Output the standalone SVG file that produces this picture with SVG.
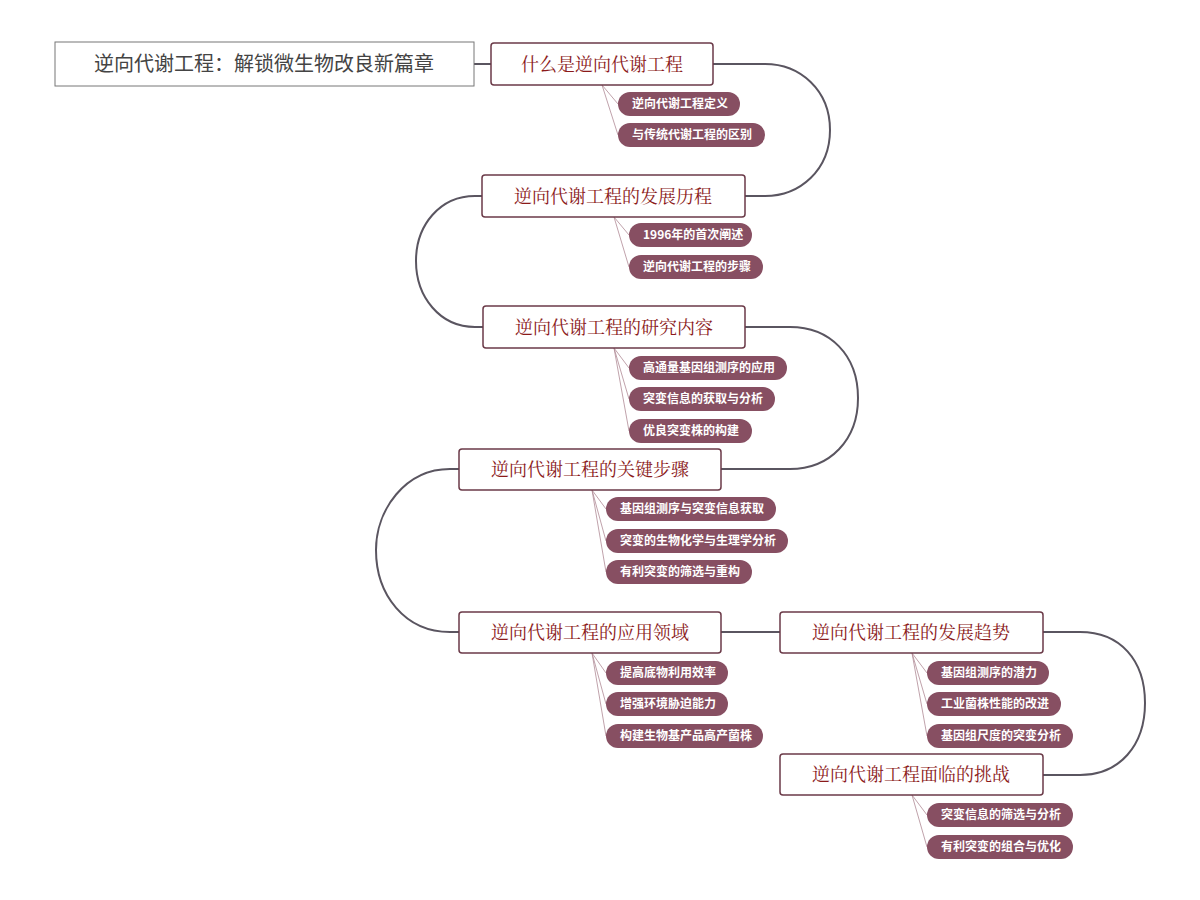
<svg xmlns="http://www.w3.org/2000/svg" width="1200" height="900" viewBox="0 0 1200 900">
<style>
.bg{fill:#fff}
.title rect{fill:#fff;stroke:#777;stroke-width:1}
.title text{font-family:"Noto Sans CJK SC","Liberation Sans",sans-serif;font-size:20px;fill:#444;text-anchor:middle}
.main rect{fill:#fff;stroke:#6b3a48;stroke-width:1.5}
.main text{font-family:"Noto Serif CJK SC","Noto Sans CJK SC",serif;font-size:18px;fill:#8b1a1a;text-anchor:middle}
.sub rect{fill:#874f62}
.sub text{font-family:"Noto Sans CJK SC","Liberation Sans",sans-serif;font-size:12px;font-weight:bold;fill:#fff}
.trunk{fill:none;stroke:#5a5560;stroke-width:2}
.twig{fill:none;stroke:#b08a95;stroke-width:0.8}
</style>
<rect class="bg" width="1200" height="900"/>
<g id="connectors">
<path class="trunk" d="M474,64 L491,64"/>
<path class="trunk" d="M713,64 L765,64 C800,64 830,90 830,130 C830,170 800,196 765,196 L745,196"/>
<path class="trunk" d="M482,196 L475,196 C440,196 416,225 416,261 C416,297 440,327 475,327 L483,327"/>
<path class="trunk" d="M745,327 L790,327 C830,327 858,355 858,398 C858,440 830,469 790,469 L721,469"/>
<path class="trunk" d="M459,469 L450,469 C405,469 376,510 376,550 C376,595 405,632 450,632 L459,632"/>
<path class="trunk" d="M721,632 L780,632"/>
<path class="trunk" d="M1043,632 L1080,632 C1120,632 1145,660 1145,703 C1145,745 1120,775 1080,775 L1043,775"/>
<path class="twig" d="M602,85 L618,104 M602,85 L618,135"/>
<path class="twig" d="M614,217 L629,235 M614,217 L629,267"/>
<path class="twig" d="M614,348 L629,368 M614,348 L629,399 M614,348 L629,431"/>
<path class="twig" d="M592,490 L606,509 M592,490 L606,541 M592,490 L606,572"/>
<path class="twig" d="M592,653 L606,673 M592,653 L606,704 M592,653 L606,736"/>
<path class="twig" d="M912,653 L927,673 M912,653 L927,704 M912,653 L927,736"/>
<path class="twig" d="M912,795 L927,815 M912,795 L927,847"/>
</g>
<g id="title" class="title"><rect x="55" y="42" width="419" height="44"/><text x="264" y="71">逆向代谢工程：解锁微生物改良新篇章</text></g>
<g id="n1" class="main"><rect x="491" y="43" width="222" height="42" rx="3"/><text x="602" y="71">什么是逆向代谢工程</text></g>
<g id="n2" class="main"><rect x="482" y="175" width="263" height="42" rx="3"/><text x="613" y="203">逆向代谢工程的发展历程</text></g>
<g id="n3" class="main"><rect x="483" y="306" width="262" height="42" rx="3"/><text x="614" y="334">逆向代谢工程的研究内容</text></g>
<g id="n4" class="main"><rect x="459" y="449" width="262" height="41" rx="3"/><text x="590" y="476">逆向代谢工程的关键步骤</text></g>
<g id="n5" class="main"><rect x="459" y="612" width="262" height="41" rx="3"/><text x="590" y="639">逆向代谢工程的应用领域</text></g>
<g id="n6" class="main"><rect x="780" y="612" width="263" height="41" rx="3"/><text x="911" y="639">逆向代谢工程的发展趋势</text></g>
<g id="n7" class="main"><rect x="780" y="754" width="263" height="41" rx="3"/><text x="911" y="781">逆向代谢工程面临的挑战</text></g>
<g id="s1a" class="sub"><rect x="618" y="92" width="122" height="24" rx="12"/><text x="632" y="108">逆向代谢工程定义</text></g>
<g id="s1b" class="sub"><rect x="618" y="123" width="147" height="24" rx="12"/><text x="632" y="139">与传统代谢工程的区别</text></g>
<g id="s2a" class="sub"><rect x="629" y="223" width="123" height="24" rx="12"/><text x="643" y="239">1996年的首次阐述</text></g>
<g id="s2b" class="sub"><rect x="629" y="255" width="134" height="24" rx="12"/><text x="643" y="271">逆向代谢工程的步骤</text></g>
<g id="s3a" class="sub"><rect x="629" y="356" width="158" height="24" rx="12"/><text x="643" y="372">高通量基因组测序的应用</text></g>
<g id="s3b" class="sub"><rect x="629" y="387" width="146" height="24" rx="12"/><text x="643" y="403">突变信息的获取与分析</text></g>
<g id="s3c" class="sub"><rect x="629" y="419" width="123" height="24" rx="12"/><text x="643" y="435">优良突变株的构建</text></g>
<g id="s4a" class="sub"><rect x="606" y="497" width="170" height="24" rx="12"/><text x="620" y="513">基因组测序与突变信息获取</text></g>
<g id="s4b" class="sub"><rect x="606" y="529" width="182" height="24" rx="12"/><text x="620" y="545">突变的生物化学与生理学分析</text></g>
<g id="s4c" class="sub"><rect x="606" y="560" width="146" height="24" rx="12"/><text x="620" y="576">有利突变的筛选与重构</text></g>
<g id="s5a" class="sub"><rect x="606" y="661" width="122" height="24" rx="12"/><text x="620" y="677">提高底物利用效率</text></g>
<g id="s5b" class="sub"><rect x="606" y="692" width="122" height="24" rx="12"/><text x="620" y="708">增强环境胁迫能力</text></g>
<g id="s5c" class="sub"><rect x="606" y="724" width="157" height="24" rx="12"/><text x="620" y="740">构建生物基产品高产菌株</text></g>
<g id="s6a" class="sub"><rect x="927" y="661" width="122" height="24" rx="12"/><text x="941" y="677">基因组测序的潜力</text></g>
<g id="s6b" class="sub"><rect x="927" y="692" width="134" height="24" rx="12"/><text x="941" y="708">工业菌株性能的改进</text></g>
<g id="s6c" class="sub"><rect x="927" y="724" width="146" height="24" rx="12"/><text x="941" y="740">基因组尺度的突变分析</text></g>
<g id="s7a" class="sub"><rect x="927" y="803" width="146" height="24" rx="12"/><text x="941" y="819">突变信息的筛选与分析</text></g>
<g id="s7b" class="sub"><rect x="927" y="835" width="146" height="24" rx="12"/><text x="941" y="851">有利突变的组合与优化</text></g>
</svg>
